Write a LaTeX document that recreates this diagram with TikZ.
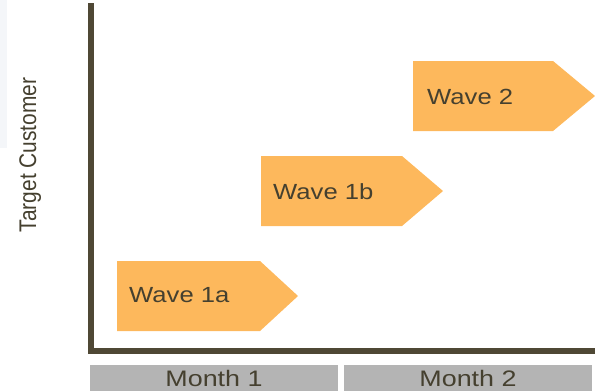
\documentclass[tikz,border=0pt]{standalone}
\usepackage{fontspec}
\setmainfont{Liberation Sans}
\definecolor{waveorange}{HTML}{FDB85C}
\definecolor{axisbrown}{HTML}{4F4835}
\definecolor{txtdark}{HTML}{45402F}
\definecolor{bargray}{HTML}{B4B4B4}
\definecolor{paleblue}{HTML}{F4F6F9}
\begin{document}
\begin{tikzpicture}[x=1bp,y=-1bp,
  wavebox/.style={fill=waveorange,draw=none},
  wavetext/.style={anchor=base west,inner sep=0pt,text=txtdark,font=\fontsize{22}{26}\selectfont},
  monthbar/.style={fill=bargray,draw=none},
  monthtext/.style={anchor=base,inner sep=0pt,text=txtdark,font=\fontsize{22.5}{26}\selectfont},
  axisline/.style={draw=axisbrown,line width=6bp,line join=miter}]
\useasboundingbox (0,0) rectangle (595,391);
\fill[paleblue] (0,0) rectangle (7,148);
% axes
\coordinate (top) at (91,3);
\coordinate (corner) at (91,350.5);
\coordinate (right) at (595,350.5);
\draw[axisline] (top) -- (corner) -- (right);
% waves
\fill[wavebox] (117,261) -- (260,261) -- (298,296) -- (260,331) -- (117,331) -- cycle;
\fill[wavebox] (261,156) -- (402,156) -- (443,191) -- (402,226) -- (261,226) -- cycle;
\fill[wavebox] (413,61) -- (553,61) -- (595,96) -- (553,131) -- (413,131) -- cycle;
\node[wavetext] (w1a) at (129,302) {\scalebox{1.17}[1]{Wave 1a}};
\node[wavetext] (w1b) at (273,199) {\scalebox{1.17}[1]{Wave 1b}};
\node[wavetext] (w2) at (427,104) {\scalebox{1.17}[1]{Wave 2}};
% month bars
\fill[monthbar] (90,365) rectangle (338,391);
\fill[monthbar] (344,365) rectangle (592,391);
\node[monthtext] (m1) at (214,386) {\scalebox{1.2}[1]{Month 1}};
\node[monthtext] (m2) at (468,386) {\scalebox{1.2}[1]{Month 2}};
% y label
\node[anchor=base,inner sep=0pt,rotate=90,text=txtdark,font=\fontsize{21}{24}\selectfont] (ylab) at (36,155) {\scalebox{1}[1.15]{Target Customer}};
\end{tikzpicture}
\end{document}
